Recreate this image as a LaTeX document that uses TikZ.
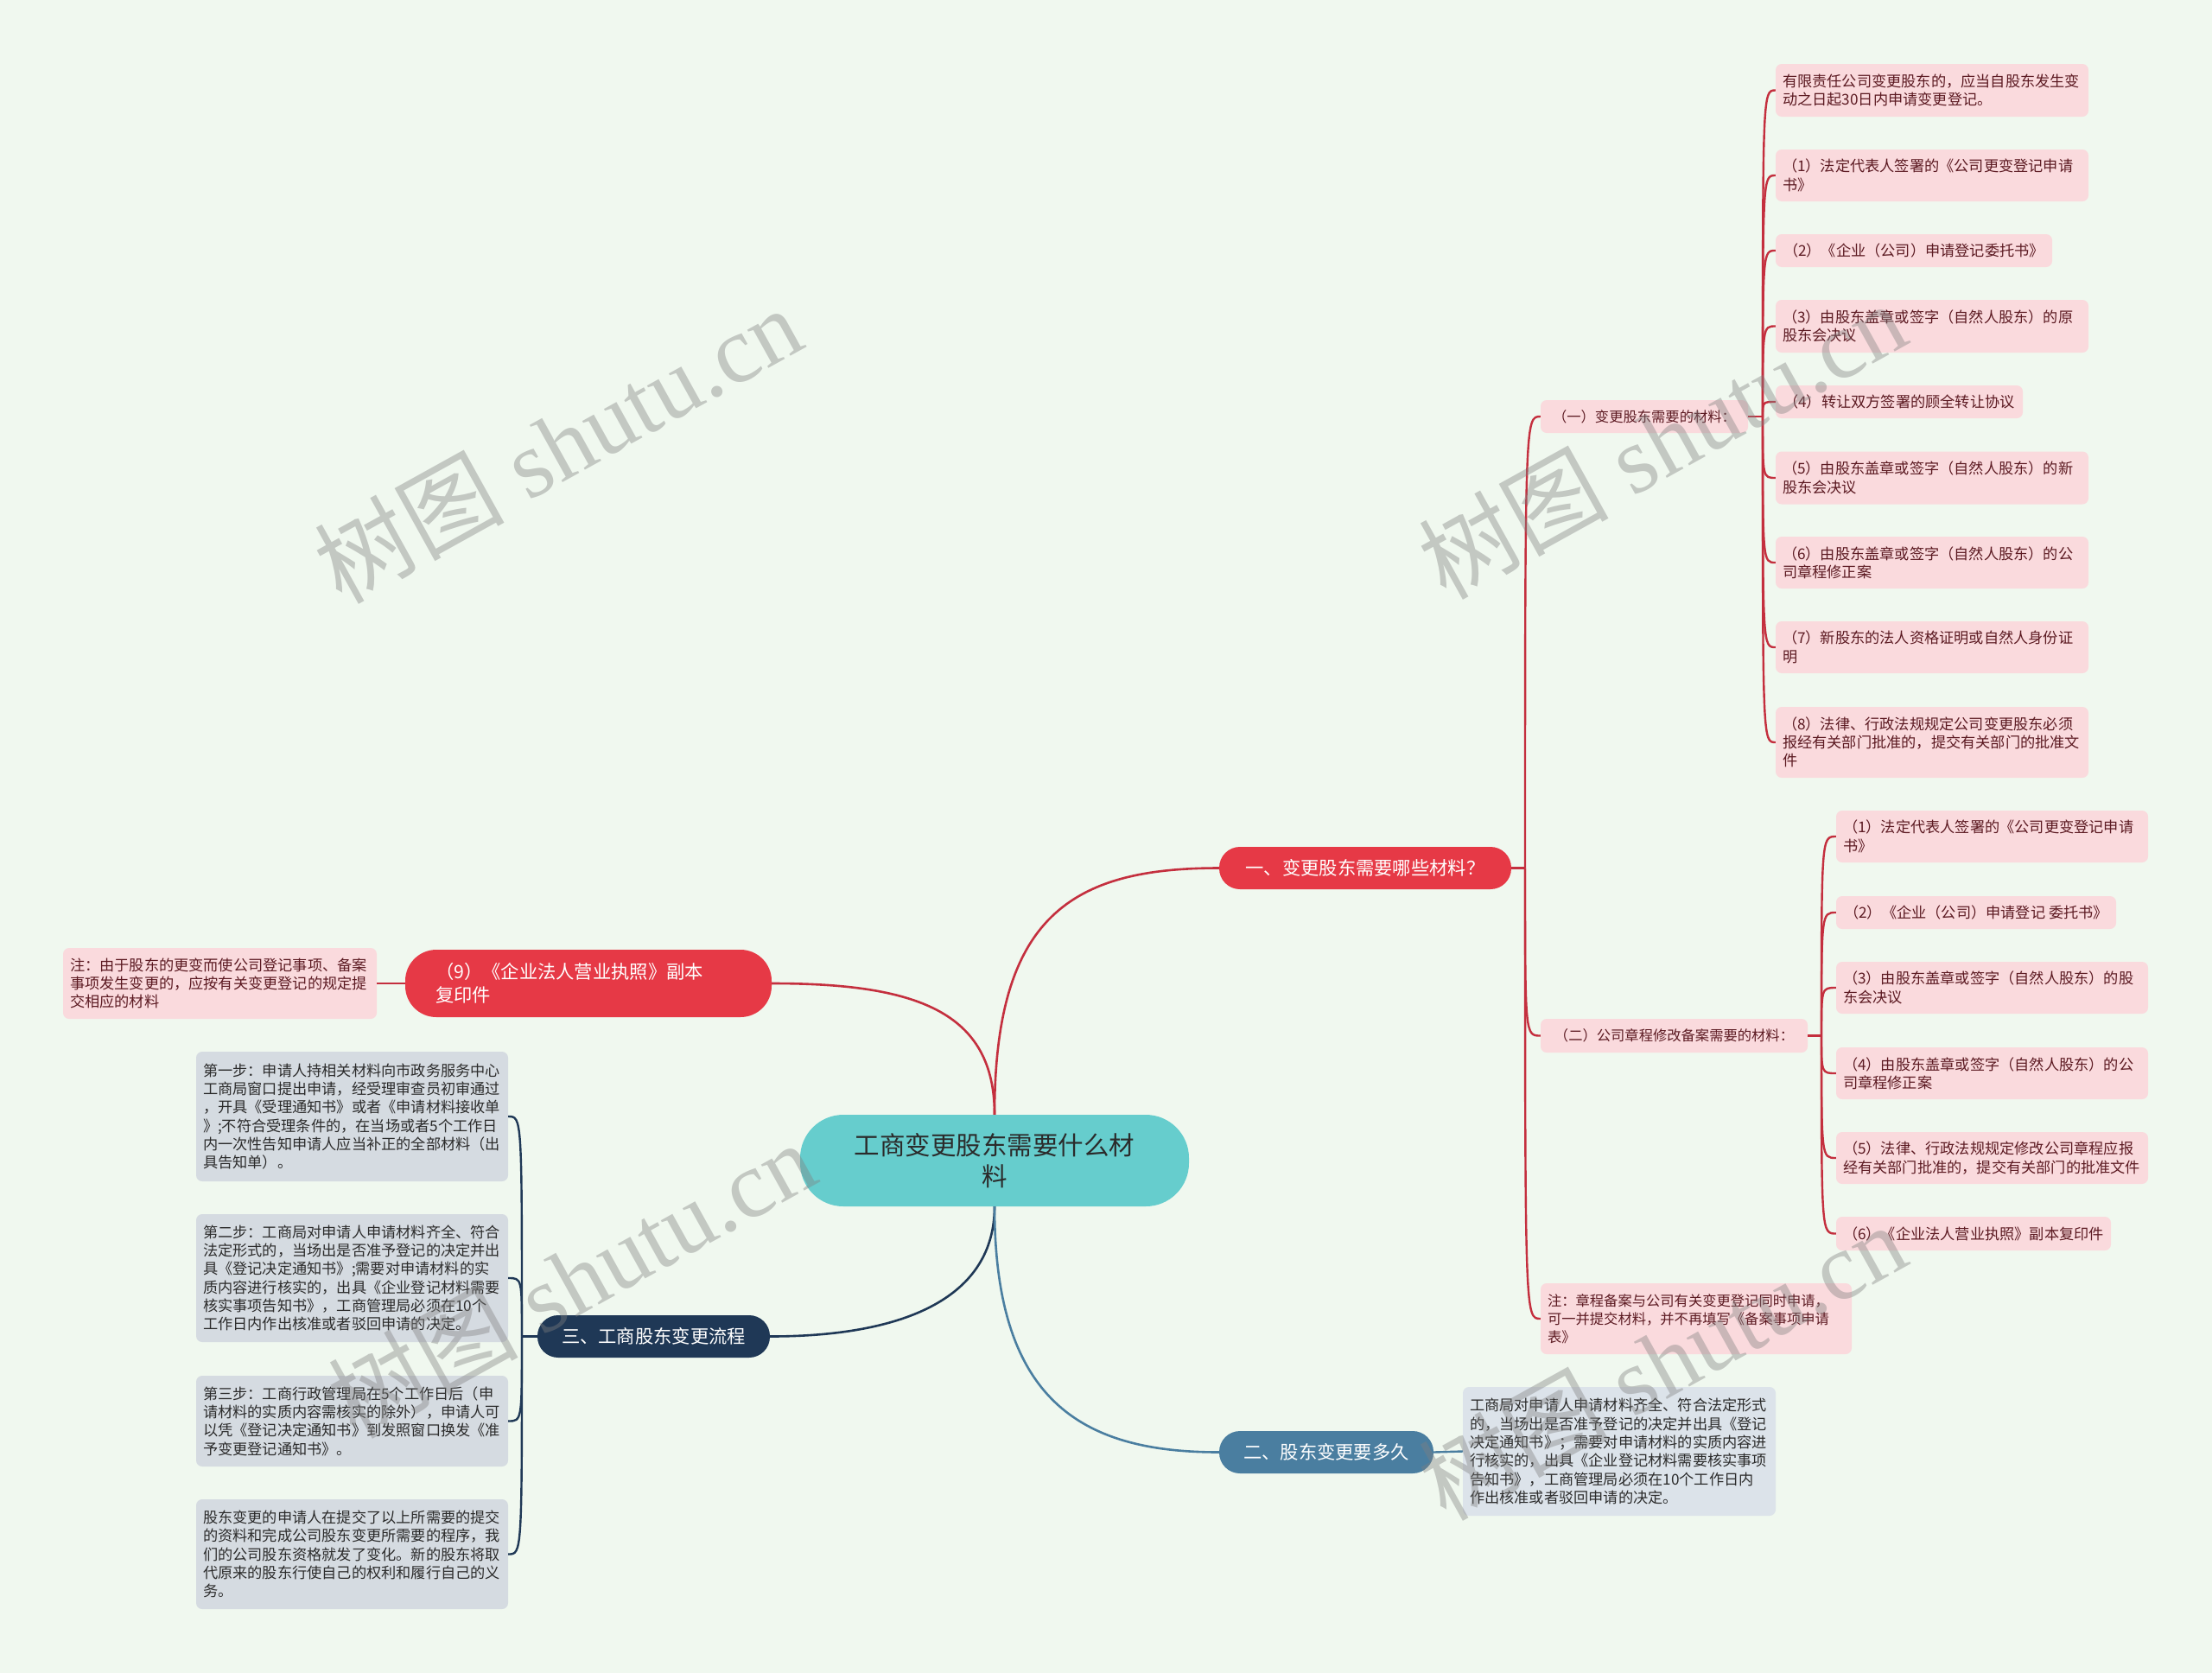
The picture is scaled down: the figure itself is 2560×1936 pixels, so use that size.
\documentclass[tikz,border=0pt]{standalone}
\usepackage{fontspec}
\setmainfont{Noto Sans CJK SC}
\newfontfamily\wmfont{Liberation Serif}
\definecolor{bgc}{HTML}{F0F8EF}
\definecolor{tealc}{HTML}{66CDCD}
\definecolor{redc}{HTML}{E63946}
\definecolor{redl}{HTML}{C42F3E}
\definecolor{pinkc}{HTML}{FADADD}
\definecolor{pinkt}{HTML}{5C1A22}
\definecolor{bluec}{HTML}{4A7EA0}
\definecolor{navyc}{HTML}{1F3856}
\definecolor{greyc}{HTML}{D5DBE1}
\definecolor{greyb}{HTML}{DCE3EA}
\definecolor{darkt}{HTML}{2B2B2B}
\tikzset{
  base/.style={anchor=center, inner xsep=8pt, inner ysep=0pt, align=left, rounded corners=7pt},
  pinkbox/.style={base, fill=pinkc, text=pinkt, font=\fontsize{17.2}{21.3}\selectfont},
  subbox/.style={base, fill=pinkc, text=pinkt, font=\fontsize{16.3}{21}\selectfont},
  greybox/.style={base, fill=greyc, text=darkt, font=\fontsize{17.2}{21.3}\selectfont},
  bluebox/.style={base, fill=greyb, text=darkt, font=\fontsize{17.2}{21.3}\selectfont},
  mainbox/.style={anchor=center, inner xsep=20pt, inner ysep=0pt, align=left, text=white, font=\fontsize{21.3}{27}\selectfont},
  redline/.style={draw=redl, line width=2.4pt},
  blueline/.style={draw=bluec, line width=2.4pt},
  navyline/.style={draw=navyc, line width=2.4pt},
  wm/.style={rotate=29, text=gray, opacity=0.4, font=\wmfont\fontsize{110}{110}\selectfont}
}
\begin{document}
\begin{tikzpicture}[x=1pt,y=-1pt]
\useasboundingbox (0,0) rectangle (2560,1936);
\fill[bgc] (0,0) rectangle (2560,1936);

% central
\node[anchor=center, fill=tealc, text=darkt, rounded corners=50pt, minimum width=450pt, minimum height=106pt, align=center, font=\fontsize{29.5}{36}\selectfont] (C) at (1151,1343) {工商变更股东需要什么材\\料};

% main branches
\node[mainbox, fill=redc, rounded corners=24pt, minimum width=338pt, minimum height=49pt, align=center] (B1) at (1580,1004.5) {一、变更股东需要哪些材料？};
\node[mainbox, fill=bluec, rounded corners=24pt, minimum width=248pt, minimum height=49pt, align=center] (B2) at (1535,1680.5) {二、股东变更要多久};
\node[mainbox, fill=navyc, rounded corners=24pt, minimum width=269pt, minimum height=49pt, align=center] (B3) at (756.5,1546.5) {三、工商股东变更流程};
\node[mainbox, fill=redc, rounded corners=36pt, text width=354pt, inner xsep=35pt, minimum height=78pt] (B4) at (681,1138) {（9）《企业法人营业执照》副本\\复印件};

% branch 4 note
\node[pinkbox, text width=347pt, minimum height=82pt] (N4) at (254.5,1138) {注：由于股东的更变而使公司登记事项、备案\\事项发生变更的，应按有关变更登记的规定提\\交相应的材料};

% branch 1 sub nodes
\node[subbox, minimum width=240pt, minimum height=38pt] (S1) at (1903,482) {（一）变更股东需要的材料：};
\node[subbox, minimum width=309pt, minimum height=39pt] (S2) at (1937.5,1198.5) {（二）公司章程修改备案需要的材料：};
\node[subbox, text width=344pt, minimum height=82pt] (S3) at (1963,1526) {注：章程备案与公司有关变更登记同时申请，\\可一并提交材料，并不再填写《备案事项申请\\表》};

% leaves of S1
\node[pinkbox, text width=346pt, minimum height=61pt] (L1a) at (2236,104.5) {有限责任公司变更股东的，应当自股东发生变\\动之日起30日内申请变更登记。};
\node[pinkbox, text width=346pt, minimum height=60pt] (L1b) at (2236,203) {（1）法定代表人签署的《公司更变登记申请\\书》};
\node[pinkbox, minimum width=320pt, minimum height=38pt] (L1c) at (2215,290) {（2）《企业（公司）申请登记委托书》};
\node[pinkbox, text width=346pt, minimum height=61pt] (L1d) at (2236,377.5) {（3）由股东盖章或签字（自然人股东）的原\\股东会决议};
\node[pinkbox, minimum width=286pt, minimum height=38pt] (L1e) at (2198,465) {（4）转让双方签署的顾全转让协议};
\node[pinkbox, text width=346pt, minimum height=61pt] (L1f) at (2236,553) {（5）由股东盖章或签字（自然人股东）的新\\股东会决议};
\node[pinkbox, text width=346pt, minimum height=60pt] (L1g) at (2236,651) {（6）由股东盖章或签字（自然人股东）的公\\司章程修正案};
\node[pinkbox, text width=346pt, minimum height=60pt] (L1h) at (2236,749) {（7）新股东的法人资格证明或自然人身份证\\明};
\node[pinkbox, text width=346pt, minimum height=82pt] (L1i) at (2236,859) {（8）法律、行政法规规定公司变更股东必须\\报经有关部门批准的，提交有关部门的批准文\\件};

% leaves of S2
\node[pinkbox, text width=345pt, minimum height=60pt] (L2a) at (2305.5,968) {（1）法定代表人签署的《公司更变登记申请\\书》};
\node[pinkbox, minimum width=324pt, minimum height=38pt] (L2b) at (2287,1056) {（2）《企业（公司）申请登记 委托书》};
\node[pinkbox, text width=345pt, minimum height=60pt] (L2c) at (2305.5,1143) {（3）由股东盖章或签字（自然人股东）的股\\东会决议};
\node[pinkbox, text width=345pt, minimum height=60pt] (L2d) at (2305.5,1242) {（4）由股东盖章或签字（自然人股东）的公\\司章程修正案};
\node[pinkbox, text width=345pt, minimum height=60pt] (L2e) at (2305.5,1340) {（5）法律、行政法规规定修改公司章程应报\\经有关部门批准的，提交有关部门的批准文件};
\node[pinkbox, minimum width=318pt, minimum height=39pt] (L2f) at (2284,1427.5) {（6）《企业法人营业执照》副本复印件};

% branch 2 leaf
\node[bluebox, text width=346pt, minimum height=149pt] (L2x) at (1874,1679.5) {工商局对申请人申请材料齐全、符合法定形式\\的，当场出是否准予登记的决定并出具《登记\\决定通知书》；需要对申请材料的实质内容进\\行核实的，出具《企业登记材料需要核实事项\\告知书》，工商管理局必须在10个工作日内\\作出核准或者驳回申请的决定。};

% branch 3 leaves
\node[greybox, text width=345pt, minimum height=150pt] (L3a) at (407.5,1292) {第一步：申请人持相关材料向市政务服务中心\\工商局窗口提出申请，经受理审查员初审通过\\，开具《受理通知书》或者《申请材料接收单\\》;不符合受理条件的，在当场或者5个工作日\\内一次性告知申请人应当补正的全部材料（出\\具告知单）。};
\node[greybox, text width=345pt, minimum height=148pt] (L3b) at (407.5,1479) {第二步：工商局对申请人申请材料齐全、符合\\法定形式的，当场出是否准予登记的决定并出\\具《登记决定通知书》;需要对申请材料的实\\质内容进行核实的，出具《企业登记材料需要\\核实事项告知书》，工商管理局必须在10个\\工作日内作出核准或者驳回申请的决定。};
\node[greybox, text width=345pt, minimum height=105pt] (L3c) at (407.5,1644.5) {第三步：工商行政管理局在5个工作日后（申\\请材料的实质内容需核实的除外），申请人可\\以凭《登记决定通知书》到发照窗口换发《准\\予变更登记通知书》。};
\node[greybox, text width=345pt, minimum height=127pt] (L3d) at (407.5,1798.5) {股东变更的申请人在提交了以上所需要的提交\\的资料和完成公司股东变更所需要的程序，我\\们的公司股东资格就发了变化。新的股东将取\\代原来的股东行使自己的权利和履行自己的义\\务。};

% main connectors
\draw[redline, line width=2.6pt] (C.north) .. controls (1151,1060) and (1240,1004.5) .. (B1.west);
\draw[redline, line width=2.6pt] (C.north) .. controls (1151,1170) and (1060,1138) .. (B4.east);
\draw[navyline, line width=2.6pt] (C.south) .. controls (1151,1500) and (1050,1546.5) .. (B3.east);
\draw[blueline, line width=2.6pt] (C.south) .. controls (1151,1620) and (1250,1680.5) .. (B2.west);

% branch 1 to subs
\coordinate (t1) at (1765,1004.5);
\draw[redline] (B1.east) -- (t1);
\foreach \n in {S1,S2,S3} \draw[redline] (t1) .. controls (t1 |- \n.west) .. (\n.west);

% S1 to leaves
\coordinate (t2) at (2040,482);
\draw[redline] (S1.east) -- (t2);
\foreach \n in {L1a,L1b,L1c,L1d,L1e,L1f,L1g,L1h,L1i} \draw[redline] (t2) .. controls (t2 |- \n.west) .. (\n.west);

% S2 to leaves
\coordinate (t3) at (2108,1198.5);
\draw[redline] (S2.east) -- (t3);
\foreach \n in {L2a,L2b,L2c,L2d,L2e,L2f} \draw[redline] (t3) .. controls (t3 |- \n.west) .. (\n.west);

% B2 leaf
\draw[blueline] (B2.east) -- (L2x.west);

% B3 leaves
\coordinate (t4) at (604,1546.5);
\draw[navyline] (B3.west) -- (t4);
\foreach \n in {L3a,L3b,L3c,L3d} \draw[navyline] (t4) .. controls (t4 |- \n.east) .. (\n.east);

% B4 note
\draw[redline] (B4.west) -- (N4.east);

% watermarks
\node[wm] (W1) at (645,514) {{\fontspec{Noto Sans CJK SC}树图} shutu.cn};
\node[wm] (W2) at (1923,509) {{\fontspec{Noto Sans CJK SC}树图} shutu.cn};
\node[wm] (W3) at (661,1480) {{\fontspec{Noto Sans CJK SC}树图} shutu.cn};
\node[wm] (W4) at (1923,1575) {{\fontspec{Noto Sans CJK SC}树图} shutu.cn};
\end{tikzpicture}
\end{document}
